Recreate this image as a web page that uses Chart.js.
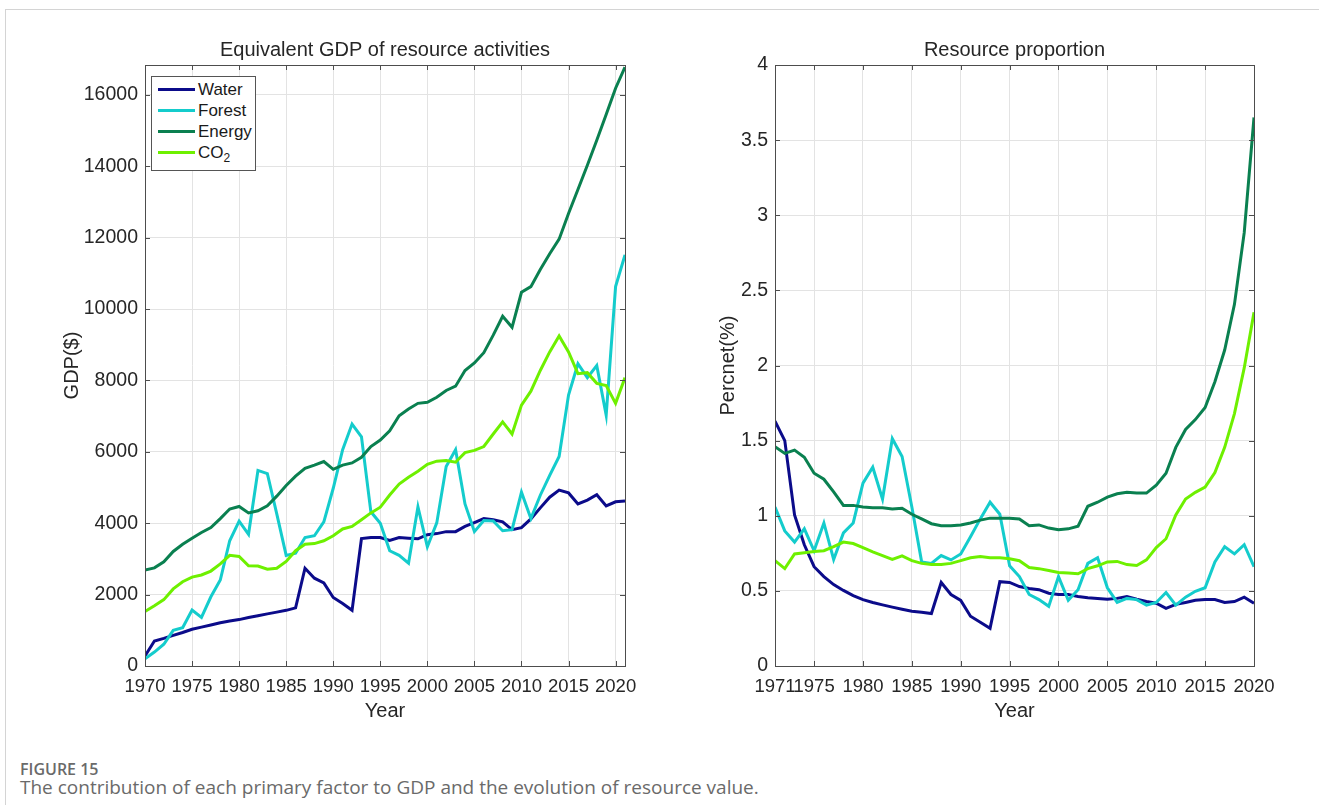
<!DOCTYPE html>
<html lang="en">
<head>
<meta charset="UTF-8">
<title>Figure 15 - GDP and resource proportion</title>
<script src="https://cdn.jsdelivr.net/npm/chart.js@4.4.1/dist/chart.umd.min.js"></script>
<style>
    body { margin: 0; background: #fff; width: 1319px; height: 805px; position: relative; overflow: hidden; }
    .frame { position: absolute; left: 5px; top: 9px; width: 1400px; height: 900px; border-left: 1px solid #d4d4d4; border-top: 1px solid #d4d4d4; }
    #gdpChart { position: absolute; left: 0; top: 0; }
    #propChart { position: absolute; left: 660px; top: 0; }
    .legend { position: absolute; left: 151px; top: 76px; width: 105px; height: 95px; background: #fff; border: 1px solid #555;
              font-family: "Liberation Sans", Arial, sans-serif; font-size: 17px; color: #1a1a1a; box-sizing: border-box; padding-top: 2px; }
    .legend div { height: 21px; line-height: 21px; white-space: nowrap; }
    .legend span.sw { display: inline-block; width: 37px; height: 3px; margin: 0 3px 0 6px; vertical-align: middle; position: relative; top: -1px; }
    .legend sub { font-size: 12px; }
    .fig { position: absolute; left: 20px; top: 758px; font-family: "Open Sans", sans-serif; font-size: 16px; font-weight: 600; color: #6a6a6a; }
    .cap { position: absolute; left: 20px; top: 774px; font-family: "Open Sans", sans-serif; font-size: 19px; color: #6a6a6a; }
</style>
</head>
<body>
<div class="frame"></div>
<canvas id="gdpChart" width="660" height="730"></canvas>
<canvas id="propChart" width="659" height="730"></canvas>

<div class="legend">
    <div><span class="sw" style="background:#0b0b8a"></span>Water</div>
    <div><span class="sw" style="background:#14cccc"></span>Forest</div>
    <div><span class="sw" style="background:#0a8050"></span>Energy</div>
    <div><span class="sw" style="background:#6ef000"></span>CO<sub>2</sub></div>
</div>

<div class="fig">FIGURE 15</div>
<div class="cap">The contribution of each primary factor to GDP and the evolution of resource value.</div>

<script>
// ---- data ----
const yearsGdp = [];
for (let y = 1970; y <= 2021; y++) yearsGdp.push(y);
const yearsProp = [];
for (let y = 1971; y <= 2020; y++) yearsProp.push(y);

const seriesNames = ['Water', 'Forest', 'Energy', 'CO\u2082'];
const seriesColors = ['#0b0b8a', '#14cccc', '#0a8050', '#6ef000'];

// left panel: equivalent GDP ($), 1970-2021
const gdpWater = [280, 700, 775, 860, 940, 1030, 1090, 1150, 1210, 1260,
    1300, 1360, 1410, 1460, 1510, 1560, 1630, 2740, 2460, 2330,
    1920, 1750, 1560, 3570, 3600, 3600, 3520, 3600, 3580, 3565,
    3680, 3710, 3765, 3765, 3910, 4020, 4130, 4100, 4040, 3820,
    3875, 4120, 4430, 4730, 4930, 4850, 4540, 4650, 4800, 4485,
    4600, 4620];
const gdpForest = [200, 390, 610, 1000, 1070, 1570, 1360, 1940, 2410, 3510,
    4060, 3690, 5480, 5390, 4260, 3100, 3160, 3600, 3650, 4040,
    4980, 6060, 6780, 6420, 4320, 4000, 3230, 3100, 2880, 4460,
    3340, 4010, 5590, 6060, 4540, 3765, 4075, 4065, 3790, 3820,
    4870, 4130, 4785, 5340, 5870, 7590, 8470, 8080, 8420, 7030,
    10630, 11520];
const gdpEnergy = [2690, 2750, 2920, 3210, 3410, 3580, 3740, 3880, 4130, 4400,
    4470, 4290, 4350, 4490, 4760, 5060, 5320, 5540, 5630, 5730,
    5510, 5630, 5690, 5850, 6150, 6330, 6590, 7010, 7200, 7360,
    7390, 7530, 7720, 7840, 8280, 8490, 8780, 9270, 9800, 9490,
    10470, 10630, 11110, 11550, 11960, 12680, 13350, 14030, 14730, 15450,
    16190, 16780];
const gdpCO2 = [1530, 1690, 1860, 2160, 2360, 2490, 2550, 2660, 2860, 3100,
    3070, 2810, 2800, 2710, 2740, 2930, 3230, 3410, 3430, 3510,
    3650, 3840, 3910, 4100, 4290, 4450, 4790, 5100, 5290, 5460,
    5650, 5740, 5760, 5710, 5980, 6040, 6150, 6500, 6840, 6500,
    7310, 7700, 8280, 8800, 9250, 8800, 8190, 8220, 7920, 7860,
    7360, 8080];

// right panel: resource proportion (%), 1971-2020
const propWater = [1.63, 1.50, 1.005, 0.807, 0.661, 0.595, 0.542, 0.503, 0.468, 0.442,
    0.423, 0.407, 0.392, 0.378, 0.365, 0.357, 0.349, 0.556, 0.476, 0.437,
    0.331, 0.291, 0.251, 0.561, 0.556, 0.529, 0.516, 0.508, 0.484, 0.476,
    0.476, 0.463, 0.455, 0.450, 0.444, 0.450, 0.463, 0.444, 0.429, 0.418,
    0.384, 0.410, 0.423, 0.437, 0.442, 0.442, 0.423, 0.429, 0.458, 0.418];
const propForest = [1.058, 0.899, 0.825, 0.913, 0.767, 0.952, 0.709, 0.886, 0.952, 1.217,
    1.323, 1.111, 1.513, 1.394, 1.058, 0.693, 0.683, 0.735, 0.706, 0.746,
    0.860, 0.979, 1.09, 1.01, 0.667, 0.595, 0.476, 0.442, 0.397, 0.595,
    0.437, 0.508, 0.683, 0.720, 0.521, 0.423, 0.450, 0.442, 0.405, 0.423,
    0.489, 0.405, 0.458, 0.497, 0.521, 0.693, 0.794, 0.746, 0.807, 0.661];
const propEnergy = [1.46, 1.415, 1.437, 1.389, 1.283, 1.243, 1.159, 1.069, 1.069, 1.058,
    1.053, 1.053, 1.045, 1.05, 1.01, 0.979, 0.947, 0.934, 0.934, 0.939,
    0.952, 0.971, 0.984, 0.984, 0.984, 0.979, 0.934, 0.939, 0.918, 0.907,
    0.913, 0.931, 1.063, 1.09, 1.124, 1.146, 1.156, 1.151, 1.151, 1.204,
    1.283, 1.455, 1.574, 1.640, 1.720, 1.892, 2.103, 2.407, 2.884, 3.651];
const propCO2 = [0.701, 0.648, 0.746, 0.754, 0.762, 0.767, 0.794, 0.825, 0.815, 0.788,
    0.759, 0.735, 0.709, 0.733, 0.701, 0.683, 0.675, 0.675, 0.683, 0.701,
    0.720, 0.728, 0.720, 0.720, 0.714, 0.701, 0.656, 0.648, 0.635, 0.622,
    0.619, 0.614, 0.648, 0.667, 0.693, 0.696, 0.675, 0.669, 0.706, 0.788,
    0.847, 1.005, 1.111, 1.156, 1.190, 1.288, 1.455, 1.680, 1.984, 2.354];

// tick labels
const gdpXTicks = [1970, 1975, 1980, 1985, 1990, 1995, 2000, 2005, 2010, 2015, 2020];
const gdpYTicks = [0, 2000, 4000, 6000, 8000, 10000, 12000, 14000, 16000];
const propXTicks = [1971, 1975, 1980, 1985, 1990, 1995, 2000, 2005, 2010, 2015, 2020];
const propYTicks = [0, 0.5, 1, 1.5, 2, 2.5, 3, 3.5, 4];

// ---- helpers ----
const FONT = '"Liberation Sans", Arial, sans-serif';
const TXT = '#262626';

function makeSets(years, lists) {
    return lists.map((vals, i) => ({
        label: seriesNames[i],
        data: vals.map((v, k) => ({ x: years[k], y: v })),
        borderColor: seriesColors[i],
        backgroundColor: seriesColors[i],
        borderWidth: 3,
        pointRadius: 0,
        tension: 0,
        order: lists.length - i
    }));
}

// matlab-like box with inward ticks
const boxTicks = {
    id: 'boxTicks',
    afterDatasetsDraw(chart) {
        const { ctx, chartArea: a, scales } = chart;
        ctx.save();
        ctx.strokeStyle = '#4d4d4d';
        ctx.lineWidth = 1;
        ctx.beginPath();
        scales.x.ticks.forEach(t => {
            const px = Math.round(scales.x.getPixelForValue(t.value)) + 0.5;
            ctx.moveTo(px, a.bottom); ctx.lineTo(px, a.bottom - 5);
            ctx.moveTo(px, a.top); ctx.lineTo(px, a.top + 5);
        });
        scales.y.ticks.forEach(t => {
            const py = Math.round(scales.y.getPixelForValue(t.value)) + 0.5;
            ctx.moveTo(a.left, py); ctx.lineTo(a.left + 5, py);
            ctx.moveTo(a.right, py); ctx.lineTo(a.right - 5, py);
        });
        ctx.stroke();
        ctx.strokeRect(Math.round(a.left) + 0.5, Math.round(a.top) + 0.5,
            Math.round(a.right - a.left), Math.round(a.bottom - a.top));
        ctx.restore();
    }
};

function makeChart(id, opts) {
    return new Chart(document.getElementById(id), {
        type: 'line',
        data: { datasets: makeSets(opts.years, opts.lists) },
        options: {
            responsive: false,
            animation: false,
            layout: { padding: { left: 0, right: opts.padRight, top: 0, bottom: 0 } },
            plugins: {
                legend: { display: false },
                tooltip: { enabled: false },
                title: {
                    display: true, text: opts.title, fullSize: false, color: TXT,
                    font: { family: FONT, size: 20, weight: 'normal' },
                    padding: { top: 38, bottom: 3 }
                }
            },
            scales: {
                x: {
                    type: 'linear', min: opts.xMin, max: opts.xMax,
                    afterBuildTicks: s => { s.ticks = opts.xTicks.map(v => ({ value: v })); },
                    afterFit: s => { s.height = 64; },
                    grid: { color: '#e3e3e3', drawTicks: false },
                    border: { display: false },
                    ticks: {
                        autoSkip: false, maxRotation: 0, padding: 10, color: TXT,
                        font: { family: FONT, size: 18.5 },
                        callback: v => String(v)
                    },
                    title: {
                        display: true, text: 'Year', color: TXT,
                        font: { family: FONT, size: 20 },
                        padding: { top: 0, bottom: 7 }
                    }
                },
                y: {
                    min: 0, max: opts.yMax,
                    afterBuildTicks: s => { s.ticks = opts.yTicks.map(v => ({ value: v })); },
                    afterFit: s => { s.width = opts.yWidth; },
                    grid: { color: '#e3e3e3', drawTicks: false },
                    border: { display: false },
                    ticks: {
                        padding: 7, color: TXT,
                        font: { family: FONT, size: 19.5 },
                        callback: v => String(v)
                    },
                    title: {
                        display: true, text: opts.yTitle, color: TXT,
                        font: { family: FONT, size: 20 },
                        padding: { top: opts.yTitlePad, bottom: 0 }
                    }
                }
            }
        },
        plugins: [boxTicks]
    });
}

makeChart('gdpChart', {
    title: 'Equivalent GDP of resource activities',
    years: yearsGdp,
    lists: [gdpWater, gdpForest, gdpEnergy, gdpCO2],
    xMin: 1970, xMax: 2021, xTicks: gdpXTicks,
    yMax: 16840, yTicks: gdpYTicks,
    yTitle: 'GDP($)', yWidth: 145, yTitlePad: 60, padRight: 35
});

makeChart('propChart', {
    title: 'Resource proportion',
    years: yearsProp,
    lists: [propWater, propForest, propEnergy, propCO2],
    xMin: 1971, xMax: 2020, xTicks: propXTicks,
    yMax: 4, yTicks: propYTicks,
    yTitle: 'Percnet(%)', yWidth: 115, yTitlePad: 56, padRight: 65
});
</script>
</body>
</html>
